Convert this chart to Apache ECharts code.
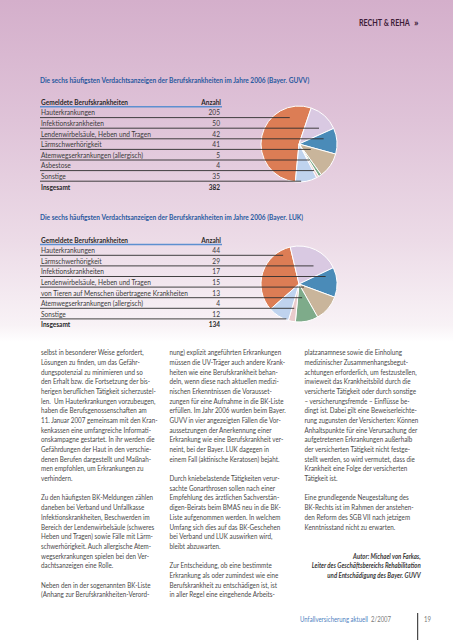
<!DOCTYPE html>
<html><head><meta charset="utf-8">
<script src="https://cdn.jsdelivr.net/npm/echarts@6/dist/echarts.min.js"></script>
<style>
html,body{margin:0;padding:0;}
body{width:453px;height:640px;background:linear-gradient(to bottom,#d4afcb 0px,#dfc3d8 120px,#ecdbe7 240px,#f8f2f6 325px,#ffffff 342px,#ffffff 640px);}
#c{width:453px;height:640px;}
</style></head><body><div id="c"></div>
<script>
// ---- data ----
const header = 'RECHT & REHA';
const title1 = 'Die sechs häufigsten Verdachtsanzeigen der Berufskrankheiten im Jahre 2006 (Bayer. GUVV)';
const title2 = 'Die sechs häufigsten Verdachtsanzeigen der Berufskrankheiten im Jahre 2006 (Bayer. LUK)';
const colHeadName = 'Gemeldete Berufskrankheiten';
const colHeadValue = 'Anzahl';
const totalLabel = 'Insgesamt';
const table1Categories = ['Hauterkrankungen','Infektionskrankheiten','Lendenwirbelsäule, Heben und Tragen','Lärmschwerhörigkeit','Atemwegserkrankungen (allergisch)','Asbestose','Sonstige'];
const table1Values = [205,50,42,41,5,4,35];
const table1Total = 382;
const table2Categories = ['Hauterkrankungen','Lärmschwerhörigkeit','Infektionskrankheiten','Lendenwirbelsäule, Heben und Tragen','von Tieren auf Menschen übertragene Krankheiten','Atemwegserkrankungen (allergisch)','Sonstige'];
const table2Values = [44,29,17,15,13,4,12];
const table2Total = 134;
const col1Lines = [
"selbst in besonderer Weise gefordert,",
"Lösungen zu finden, um das Gefähr-",
"dungspotenzial zu minimieren und so",
"den Erhalt bzw. die Fortsetzung der bis-",
"herigen beruflichen Tätigkeit sicherzustel-",
"len.  Um Hauterkrankungen vorzubeugen,",
"haben die Berufsgenossenschaften am",
"11. Januar 2007 gemeinsam mit den Kran-",
"kenkassen eine umfangreiche Informati-",
"onskampagne gestartet. In ihr werden die",
"Gefährdungen der Haut in den verschie-",
"denen Berufen dargestellt und Maßnah-",
"men empfohlen, um Erkrankungen zu",
"verhindern.",
"",
"Zu den häufigsten BK-Meldungen zählen",
"daneben bei Verband und Unfallkasse",
"Infektionskrankheiten, Beschwerden im",
"Bereich der Lendenwirbelsäule (schweres",
"Heben und Tragen) sowie Fälle mit Lärm-",
"schwerhörigkeit. Auch allergische Atem-",
"wegserkrankungen spielen bei den Ver-",
"dachtsanzeigen eine Rolle.",
"",
"Neben den in der sogenannten BK-Liste",
"(Anhang zur Berufskrankheiten-Verord-"];
const col2Lines = [
"nung) explizit angeführten Erkrankungen",
"müssen die UV-Träger auch andere Krank-",
"heiten wie eine Berufskrankheit behan-",
"deln, wenn diese nach aktuellen medizi-",
"nischen Erkenntnissen die Vorausset-",
"zungen für eine Aufnahme in die BK-Liste",
"erfüllen. Im Jahr 2006 wurden beim Bayer.",
"GUVV in vier angezeigten Fällen die Vor-",
"aussetzungen der Anerkennung einer",
"Erkrankung wie eine Berufskrankheit ver-",
"neint, bei der Bayer. LUK dagegen in",
"einem Fall (aktinische Keratosen) bejaht.",
"",
"Durch kniebelastende Tätigkeiten verur-",
"sachte Gonarthrosen sollen nach einer",
"Empfehlung des ärztlichen Sachverstän-",
"digen-Beirats beim BMAS neu in die BK-",
"Liste aufgenommen werden. In welchem",
"Umfang sich dies auf das BK-Geschehen",
"bei Verband und LUK auswirken wird,",
"bleibt abzuwarten.",
"",
"Zur Entscheidung, ob eine bestimmte",
"Erkrankung als oder zumindest wie eine",
"Berufskrankheit zu entschädigen ist, ist",
"in aller Regel eine eingehende Arbeits-"];
const col3Lines = [
"platzanamnese sowie die Einholung",
"medizinischer Zusammenhangsbegut-",
"achtungen erforderlich, um festzustellen,",
"inwieweit das Krankheitsbild durch die",
"versicherte Tätigkeit oder durch sonstige",
"– versicherungsfremde – Einflüsse be-",
"dingt ist. Dabei gilt eine Beweiserleichte-",
"rung zugunsten der Versicherten: Können",
"Anhaltspunkte für eine Verursachung der",
"aufgetretenen Erkrankungen außerhalb",
"der versicherten Tätigkeit nicht festge-",
"stellt werden, so wird vermutet, dass die",
"Krankheit eine Folge der versicherten",
"Tätigkeit ist.",
"",
"Eine grundlegende Neugestaltung des",
"BK-Rechts ist im Rahmen der anstehen-",
"den Reform des SGB VII nach jetzigem",
"Kenntnisstand nicht zu erwarten."];
const authorLines = ["Autor: Michael von Farkas,","Leiter des Geschäftsbereichs Rehabilitation","und Entschädigung des Bayer. GUVV"];
const footerMag = 'Unfallversicherung aktuell';
const footerIssue = '2/2007';
const pageNumber = '19';

// ---- styles / layout ----
const sliceColors = ['#dc7d55','#d9c9e2','#4a8bb8','#c9b59b','#7eab8a','#e9cbcc','#bfd3ee'];
const FONT = "Lato, 'Open Sans', sans-serif";
const textColor = '#3a3a3a';
const blue = '#2a5aa0';
const R = 38;
const pie1 = {cx:299, cy:144, start:264.5};
const pie2 = {cx:299, cy:284, start:221.5};

const mctx = document.createElement('canvas').getContext('2d');
function fontStr(size, weight, italic){ return (italic?'italic ':'')+(weight||'normal')+' '+size+'px '+FONT; }
function measure(s, f){ mctx.font = f; return mctx.measureText(s).width; }

const g = [];
function txt(s, x, y, size, opts) {
  opts = opts || {};
  const f = fontStr(size, opts.weight, opts.italic);
  g.push({type:'text', z:50, silent:true, x:x, y:y, scaleX:opts.sx||1,
    style:{text:s, fill:opts.fill||textColor, font:f,
    textAlign:opts.align||'left', textVerticalAlign:'middle'}});
}
function line(x1,y1,x2,y2,color,w){
  g.push({type:'line', z:60, silent:true, shape:{x1:x1,y1:y1,x2:x2,y2:y2}, style:{stroke:color,lineWidth:w}});
}
function sliceEndX(values, pie, idx, y){
  const total = values.reduce((a,b)=>a+b,0);
  let cum=0; for(let j=0;j<idx;j++) cum+=values[j];
  const s = (90 - pie.start) + cum/total*360;
  const span = values[idx]/total*360;
  let mn=Infinity, mx=-Infinity;
  for(let x=pie.cx-R; x<=pie.cx+R; x+=0.25){
    const dx=x-pie.cx, dy=y-pie.cy;
    if(dx*dx+dy*dy > R*R) continue;
    const phi = Math.atan2(dx,-dy)*180/Math.PI;
    const rel = ((phi - s)%360+720)%360;
    if(rel < span){ mn=Math.min(mn,x); mx=Math.max(mx,x); }
  }
  if(mn===Infinity) return pie.cx;
  return (mn+mx)/2;
}

// sizes
const TS = 7.4;       // table text size
const sxTable = 110 / measure('Lendenwirbelsäule, Heben und Tragen', fontStr(TS));
const sxTableBold = 87 / measure('Gemeldete Berufskrankheiten', fontStr(TS,'bold'));
const sxTitle = 270 / measure(title1, fontStr(7.4,'bold'));

function table(cats, vals, total, pie, top, step) {
  txt(colHeadName, 41, top, TS, {weight:'bold', fill:'#2a2a2a', sx:sxTableBold});
  txt(colHeadValue, 221, top, TS, {weight:'bold', fill:'#2a2a2a', align:'right', sx:sxTableBold});
  line(40, top+4.8, 222, top+4.8, '#5d8fd0', 1.4);
  const r0 = top + 10.3;
  cats.forEach((c,i)=>{
    const y = r0 + i*step;
    txt(c, 41, y, TS, {sx:sxTable});
    txt(String(vals[i]), 220, y, TS, {align:'right', sx:sxTable});
    const ly = y + step/2;
    line(40, ly, sliceEndX(vals, pie, i, ly), ly, '#2e2e2e', 0.9);
  });
  txt(totalLabel, 41, r0 + cats.length*step, TS, {weight:'bold', fill:'#2a2a2a', sx:sxTableBold});
  txt(String(total), 220, r0 + cats.length*step, TS, {weight:'bold', fill:'#2a2a2a', align:'right', sx:sxTableBold});
}

// header
const sxHead = 51 / measure(header, fontStr(8.5,'bold'));
txt(header, 359, 22.3, 8.5, {weight:'bold', fill:'#3d1c38', sx:sxHead});
txt('»', 414, 21.8, 10, {weight:'bold', fill:'#3d1c38'});
// titles + tables
txt(title1, 40, 79.7, 7.4, {weight:'bold', fill:blue, sx:sxTitle});
table(table1Categories, table1Values, table1Total, pie1, 102, 10.6);
txt(title2, 40, 216.8, 7.4, {weight:'bold', fill:blue, sx:sxTitle});
table(table2Categories, table2Values, table2Total, pie2, 239.7, 10.6);

// body text
const BS = 7.6;
const sxBody = 115 / measure('herigen beruflichen Tätigkeit sicherzustel-', fontStr(BS));
const LH = 9.68, TOP = 352;
[[col1Lines,41],[col2Lines,169.5],[col3Lines,304.5]].forEach(([lines,x])=>{
  lines.forEach((s,i)=>{ if(s) txt(s, x, TOP + i*LH, BS, {fill:'#4a4a4a', sx:sxBody}); });
});
const sxAuth = 109 / measure(authorLines[1], fontStr(7.4,'bold',true));
authorLines.forEach((s,i)=> txt(s, 420.7, TOP + (21+i)*LH, 7.4, {weight:'bold', italic:true, fill:'#3a3a3a', align:'right', sx:sxAuth}));
// footer
const sxFoot = 68 / measure(footerMag, fontStr(7.4));
txt(footerMag, 300, 618.3, 7.4, {fill:'#4f82bf', sx:sxFoot});
txt(footerIssue, 371, 618.3, 7.4, {fill:'#7a7a7a', sx:sxFoot});
txt(pageNumber, 424, 618.3, 7.4, {fill:'#7a7a7a', sx:sxFoot});
line(417.7, 613, 417.7, 640, '#222', 1);

function pieSeries(cats, vals, pie){
  return {type:'pie', silent:true, animation:false, center:[pie.cx,pie.cy], radius:[0,R], startAngle:pie.start,
    clockwise:true, label:{show:false}, labelLine:{show:false}, z:2,
    itemStyle:{borderColor:'#ffffff', borderWidth:1},
    data: cats.map((c,i)=>({name:c, value:vals[i], itemStyle:{color:sliceColors[i]}}))};
}

const chart = echarts.init(document.getElementById('c'), null, {renderer:'svg'});
chart.setOption({
  animation:false,
  backgroundColor:'transparent',
  series:[pieSeries(table1Categories, table1Values, pie1), pieSeries(table2Categories, table2Values, pie2)],
  graphic:{elements:g}
});
</script></body></html>
